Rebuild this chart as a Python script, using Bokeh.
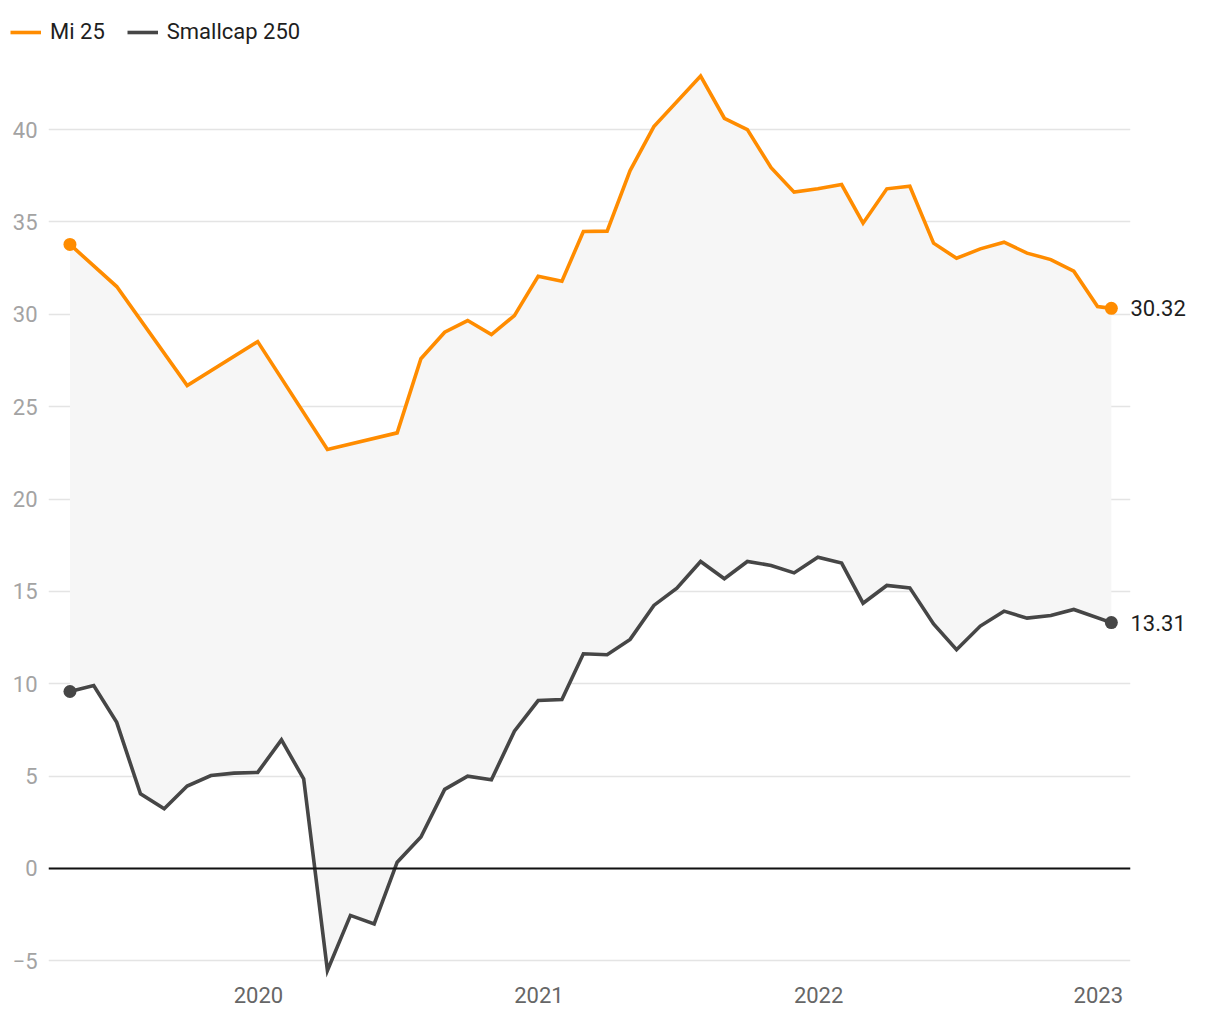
import pandas as pd
from bokeh.plotting import figure
from bokeh.models import (Range1d, FixedTicker, DatetimeTickFormatter, Span, Legend,
                          LegendItem, LinearAxis)
from bokeh.embed import file_html
from bokeh.resources import INLINE

# ---- data ----
mi25_dates = ["2019-04-30", "2019-06-30", "2019-09-30", "2019-12-31", "2020-03-31",
              "2020-06-30", "2020-07-31", "2020-08-31", "2020-09-30", "2020-10-31",
              "2020-11-30", "2020-12-31", "2021-01-31", "2021-02-28", "2021-03-31",
              "2021-04-30", "2021-05-31", "2021-07-31", "2021-08-31", "2021-09-30",
              "2021-10-31", "2021-11-30", "2021-12-31", "2022-01-31", "2022-02-28",
              "2022-03-31", "2022-04-30", "2022-05-31", "2022-06-30", "2022-07-31",
              "2022-08-31", "2022-09-30", "2022-10-31", "2022-11-30", "2022-12-31",
              "2023-01-18"]
mi25_values = [33.78, 31.50, 26.14, 28.52, 22.68,
               23.58, 27.59, 29.03, 29.66, 28.90,
               29.93, 32.06, 31.79, 34.48, 34.50,
               37.78, 40.16, 42.89, 40.61, 40.00,
               37.93, 36.61, 36.79, 37.02, 34.93,
               36.79, 36.93, 33.85, 33.03, 33.54,
               33.90, 33.31, 32.96, 32.33, 30.42,
               30.32]

small_dates = ["2019-04-30", "2019-05-31", "2019-06-30", "2019-07-31", "2019-08-31",
               "2019-09-30", "2019-10-31", "2019-11-30", "2019-12-31", "2020-01-31",
               "2020-02-29", "2020-03-31", "2020-04-30", "2020-05-31", "2020-06-30",
               "2020-07-31", "2020-08-31", "2020-09-30", "2020-10-31", "2020-11-30",
               "2020-12-31", "2021-01-31", "2021-02-28", "2021-03-31", "2021-04-30",
               "2021-05-31", "2021-06-30", "2021-07-31", "2021-08-31", "2021-09-30",
               "2021-10-31", "2021-11-30", "2021-12-31", "2022-01-31", "2022-02-28",
               "2022-03-31", "2022-04-30", "2022-05-31", "2022-06-30", "2022-07-31",
               "2022-08-31", "2022-09-30", "2022-10-31", "2022-11-30", "2023-01-18"]
small_values = [9.58, 9.90, 7.91, 4.04, 3.23,
                4.46, 5.03, 5.16, 5.20, 6.96,
                4.85, -5.52, -2.54, -3.00, 0.34,
                1.70, 4.28, 5.00, 4.80, 7.43,
                9.09, 9.15, 11.62, 11.57, 12.40,
                14.24, 15.17, 16.62, 15.68, 16.62,
                16.40, 16.00, 16.85, 16.53, 14.36,
                15.32, 15.19, 13.24, 11.84, 13.12,
                13.93, 13.55, 13.69, 14.02, 13.31]

series_names = ["Mi 25", "Smallcap 250"]
year_ticks = ["2020-01-01", "2021-01-01", "2022-01-01", "2023-01-01"]
y_ticks = [-5, 0, 5, 10, 15, 20, 25, 30, 35, 40]

ORANGE = "#ff8c00"
DARK = "#464646"
FONT = "Roboto"
LW = 3.6

mi_x = pd.to_datetime(mi25_dates)
sm_x = pd.to_datetime(small_dates)


def ms(ts):
    return pd.Timestamp(ts).value / 1e6


# ---------- legend strip (series kept out of its view; only the legend shows) ----------
top = figure(width=1212, height=64, output_backend="svg", toolbar_location=None,
             x_axis_location=None, y_axis_location=None,
             x_range=Range1d(0, 1), y_range=Range1d(0, 1),
             min_border_left=0, min_border_right=0, min_border_top=0, min_border_bottom=0)
top.grid.visible = False
top.outline_line_color = None
l_mi = top.line(mi_x, mi25_values, line_color=ORANGE, line_width=LW)
l_sm = top.line(sm_x, small_values, line_color=DARK, line_width=LW)
legend = Legend(items=[LegendItem(label=series_names[0], renderers=[l_mi]),
                       LegendItem(label=series_names[1], renderers=[l_sm])],
                orientation="horizontal", location=(10, 20),
                padding=0, margin=0, spacing=22, glyph_width=31, glyph_height=24,
                label_height=24, label_standoff=9,
                label_text_font=FONT, label_text_font_size="22px",
                label_text_color="#1e1e1e",
                background_fill_alpha=0, border_line_alpha=0)
top.add_layout(legend)

# ---------- main chart ----------
p = figure(width=1212, height=948, output_backend="svg", toolbar_location=None,
           x_axis_type="datetime",
           x_range=Range1d(ms("2019-04-02"), ms("2023-02-12")),
           y_range=Range1d(-6.01, 43.52),
           min_border_left=48, min_border_right=82, min_border_top=0, min_border_bottom=33)
p.outline_line_color = None
p.background_fill_color = "white"
p.border_fill_color = "white"

# band between the two series
band_x = list(mi_x) + list(sm_x[::-1])
band_y = list(mi25_values) + list(small_values[::-1])
p.patch(band_x, band_y, fill_color="#f6f6f6", line_color=None)

# zero line
p.add_layout(Span(location=0, dimension="width", line_color="#111111", line_width=2))

p.line(mi_x, mi25_values, line_color=ORANGE, line_width=LW, line_join="miter")
p.line(sm_x, small_values, line_color=DARK, line_width=LW, line_join="miter")

p.scatter([mi_x[0], mi_x[-1]], [mi25_values[0], mi25_values[-1]], size=13,
          fill_color=ORANGE, line_color=None)
p.scatter([sm_x[0], sm_x[-1]], [small_values[0], small_values[-1]], size=13,
          fill_color=DARK, line_color=None)

# axes
p.xaxis.ticker = FixedTicker(ticks=[ms(t) for t in year_ticks])
p.xaxis.formatter = DatetimeTickFormatter(years="%Y", months="%Y", days="%Y",
                                          hours="%Y", minutes="%Y", seconds="%Y")
p.yaxis.ticker = FixedTicker(ticks=y_ticks)
p.yaxis.major_label_overrides = {t: (f"\u2212{abs(t)}" if t < 0 else str(t)) for t in y_ticks}

# right axis carrying the last values as labels
last_vals = [mi25_values[-1], small_values[-1]]
end_axis = LinearAxis(ticker=FixedTicker(ticks=last_vals),
                      major_label_overrides={v: f"{v:.2f}" for v in last_vals})
p.add_layout(end_axis, "right")

for ax in (p.xaxis[0], p.yaxis[0], end_axis):
    ax.axis_line_color = None
    ax.major_tick_line_color = None
    ax.minor_tick_line_color = None
    ax.major_tick_out = 0
    ax.major_tick_in = 0
    ax.minor_tick_out = 0
    ax.minor_tick_in = 0
    ax.major_label_text_font = FONT
    ax.major_label_text_font_size = "22px"
p.xaxis.major_label_text_color = "#666666"
p.yaxis[0].major_label_text_color = "#a3a3a3"
end_axis.major_label_text_color = "#1e1e1e"
p.xaxis.major_label_standoff = 7
p.yaxis[0].major_label_standoff = 11
end_axis.major_label_standoff = 0

p.xgrid.grid_line_color = None
p.ygrid.grid_line_color = "#e4e4e4"
p.ygrid.grid_line_width = 1.5

open("out.html", "w").write(file_html([top, p], INLINE))
